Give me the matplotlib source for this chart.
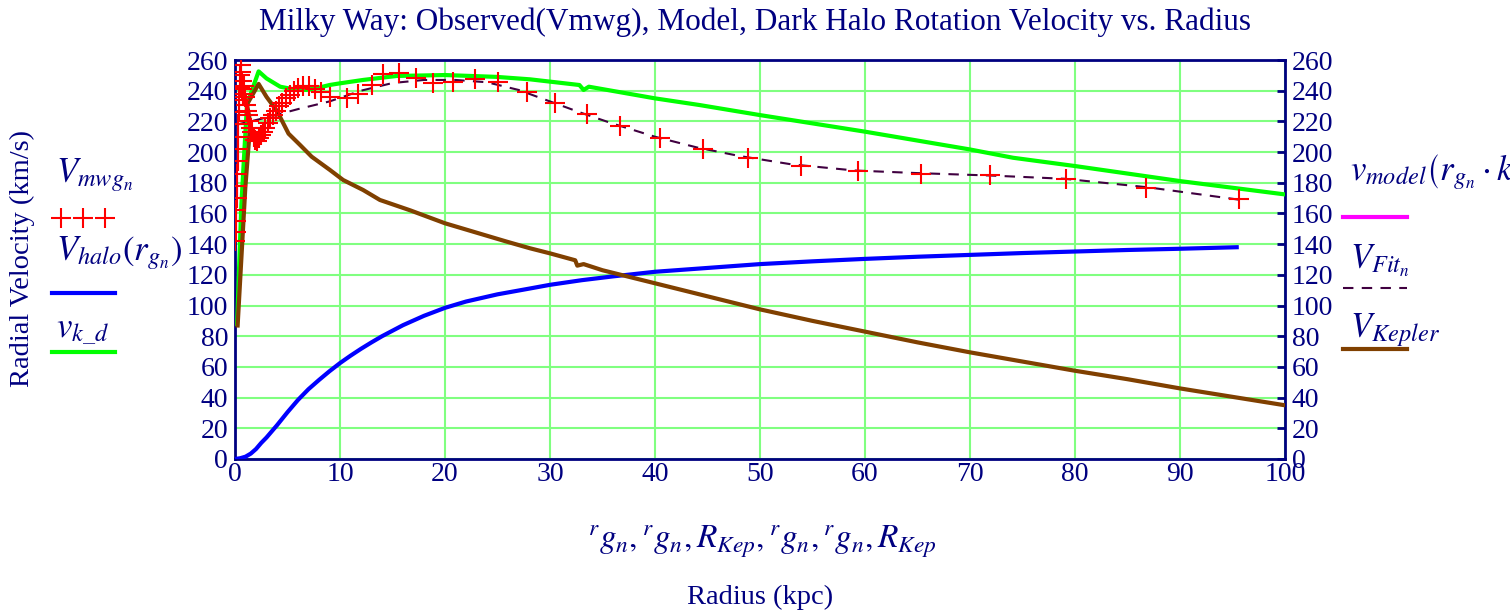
import matplotlib
matplotlib.use("Agg")
import matplotlib.pyplot as plt
from matplotlib.lines import Line2D
import numpy as np

plt.rcParams['font.family'] = ['Liberation Serif', 'DejaVu Serif']
plt.rcParams['mathtext.fontset'] = 'stix'

NAVY = '#000080'

# observed rotation curve Vmwg (kpc, km/s)
r_mwg = [0.03, 0.06, 0.09, 0.12, 0.15, 0.18, 0.21, 0.24, 0.27, 0.30, 0.33, 0.36, 0.40,
         0.44, 0.48, 0.53, 0.58, 0.64, 0.70, 0.77, 0.85, 0.93, 1.02, 1.12, 1.23, 1.35,
         1.48, 1.62, 1.77, 1.93, 2.10, 2.28, 2.47, 2.67, 2.88, 3.10, 3.35, 3.60, 3.90,
         4.20, 4.50, 4.85, 5.20, 5.60, 6.00, 6.50, 7.00, 7.60, 8.20,
         9.05, 10.7, 11.7, 13.0, 14.1, 15.6, 17.2, 18.9, 20.8, 22.9, 25.0, 27.8, 30.5,
         33.5, 36.7, 40.5, 44.6, 48.9, 53.9, 59.3, 65.3, 71.9, 79.1, 86.8, 95.6]
v_mwg = [142, 148, 155, 162, 170, 178, 186, 194, 202, 210, 218, 226, 234,
         242, 250, 257, 252, 246, 241, 238, 243, 236, 231, 227, 224, 220,
         216, 213, 210, 208, 207, 209, 211, 213, 216, 219, 222, 224, 227,
         230, 232, 235, 237, 240, 242, 243, 243, 241, 239,
         236, 235, 238, 244, 251, 251.5, 248, 245, 245.6, 247.6, 245.6, 239, 232,
         225, 217, 209, 202, 196.3, 190.9, 187.6, 185.9, 184.8, 182.6, 176.7, 169.1]

# fitted curve V_Fit
r_fit = [0, 3, 6, 9, 12, 15, 18, 21, 24, 27, 30, 33, 36, 40, 44, 48, 53, 59, 65, 72, 79, 87, 95.6]
v_fit = [217.6, 222.5, 228, 233, 240, 245, 247, 247, 245.5, 240.5, 233, 225.5, 218.5,
         210, 203, 197.5, 192, 188, 186.3, 184.7, 182.6, 177, 169]

# dark halo V_halo
r_halo = [0, 0.5, 1, 1.5, 2, 2.5, 3, 3.5, 4, 5, 6, 7, 8, 9, 10, 11, 12, 13, 14, 16, 18, 20,
          22, 25, 28, 30, 33, 36, 40, 45, 50, 55, 60, 65, 70, 75, 80, 85, 90, 95.4]
v_halo = [0, 0.5, 1.5, 3.5, 6.5, 10.5, 14, 18, 22, 30.5, 38.5, 45.5, 51.5, 57.2, 62.5,
          67.3, 71.8, 76, 80, 87.2, 93.3, 98.5, 102.6, 107.3, 111, 113.5, 116.5, 119,
          122, 124.5, 127, 128.8, 130.4, 131.8, 133, 134.2, 135.2, 136.2, 137, 138]

# v_k_d
r_kd = [0.2, 0.6, 1.14, 2.25, 3, 4.3, 5.5, 6.8, 8, 9, 10, 12.2, 15.4, 20, 24.9, 28.1,
        32.8, 33.2, 33.7, 40, 44.2, 50, 60, 70, 74.1, 80, 90, 100]
v_kd = [88, 165, 231, 252.6, 248, 242.6, 241, 240.5, 242, 243.7, 244.8, 247, 249.6,
        250.2, 249, 247.4, 243.7, 240.5, 242.6, 235, 230.7, 224.1, 213.3, 201.7,
        196.3, 190.9, 181.1, 172.4]

# Kepler
r_kep = [0.25, 0.98, 1.46, 1.14, 2.25, 3, 4, 5.1, 6.2, 7.3, 9.05, 10.3, 12.2, 13.8, 16.7,
         20, 25.9, 28.1, 30, 32.4, 32.6, 33.2, 35, 40, 45, 50, 55, 60, 65, 70, 75, 80,
         85, 90, 95, 100]
v_kep = [87, 176.6, 219, 231, 244.4, 236, 226.8, 212, 204.6, 197, 188.3, 181.8, 175.3,
         168.8, 162, 153.6, 141.6, 137.3, 134, 129.5, 126, 127, 123, 114.5, 106, 97.5,
         90, 83, 76, 69.5, 63.5, 57.5, 52, 46, 40.5, 35]

fig = plt.figure(figsize=(15.10, 6.12), dpi=100)
ax = fig.add_axes([235 / 1510, 1 - 459 / 612, 1050 / 1510, 399 / 612])

ax.plot(r_halo, v_halo, color='#0000ff', lw=3, zorder=3)
ax.plot(r_kd, v_kd, color='#00ff00', lw=3, zorder=3)
ax.plot(r_kep, v_kep, color='#804000', lw=3, zorder=4)
ax.plot(r_fit, v_fit, color='#400040', lw=1.5, ls=(0, (5, 4)), zorder=5)
ax.plot(r_mwg, v_mwg, ls='none', marker='+', color='#ff0000', ms=15, mew=1.5, zorder=6)

ax.set_xlim(0, 100)
ax.set_ylim(0, 260)
ax.set_xticks(np.arange(0, 101, 10))
ax.set_yticks(np.arange(0, 261, 20))
ax.grid(True, color='#80ff80', lw=1.5)
ax.set_axisbelow(True)
for s in ax.spines.values():
    s.set_color(NAVY)
    s.set_linewidth(2)
ax.tick_params(axis='both', colors=NAVY, labelsize=20, length=0, pad=5)
ax.tick_params(axis='y', right=True, labelright=True, direction='in', length=6, width=2)
ax.tick_params(axis='y', left=False)
ax.tick_params(axis='x', pad=2)

fig.text(0.5, 1 - 22 / 612, "Milky Way: Observed(Vmwg), Model, Dark Halo Rotation Velocity vs. Radius",
         ha='center', va='center', fontsize=22.5, color=NAVY)
fig.text(22 / 1510, 1 - 258 / 612, "Radial Velocity (km/s)", rotation=90,
         ha='center', va='center', fontsize=20.5, color=NAVY)
fig.text(762 / 1510, 1 - 542 / 612,
         r"$^{r}g_{n},^{r}g_{n},R_{Kep},^{r}g_{n},^{r}g_{n},R_{Kep}$",
         ha='center', va='center', fontsize=24, color=NAVY)
fig.text(760 / 1510, 1 - 597 / 612, "Radius (kpc)", ha='center', va='center',
         fontsize=20.5, color=NAVY)


def fx(px):
    return px / 1510


def fy(py):
    return 1 - py / 612


# left legend
fig.text(fx(56), fy(182), r"$V_{mwg_{n}}$", fontsize=25, color=NAVY, va='baseline')
for px in [61, 83, 105]:
    fig.add_artist(Line2D([fx(px)], [fy(218)], marker='+', color='#ff0000', ms=15, mew=1.5,
                          transform=fig.transFigure))
fig.text(fx(56), fy(260), r"$V_{halo}\left(r_{g_{n}}\right)$", fontsize=25, color=NAVY,
         va='baseline')
fig.add_artist(Line2D([fx(52), fx(115)], [fy(293), fy(293)], color='#0000ff', lw=3,
                      transform=fig.transFigure))
fig.text(fx(56), fy(337), r"$v_{k\_d}$", fontsize=25, color=NAVY, va='baseline')
fig.add_artist(Line2D([fx(52), fx(115)], [fy(352), fy(352)], color='#00ff00', lw=3,
                      transform=fig.transFigure))

# right legend
fig.text(fx(1350), fy(180), r"$v_{model}\left(r_{g_{n}}\cdot k\right)$", fontsize=25,
         color=NAVY, va='baseline')
fig.add_artist(Line2D([fx(1343), fx(1407)], [fy(217), fy(217)], color='#ff00ff', lw=3,
                      transform=fig.transFigure))
fig.text(fx(1350), fy(269), r"$V_{Fit_{n}}$", fontsize=25, color=NAVY, va='baseline')
fig.add_artist(Line2D([fx(1343), fx(1407)], [fy(288), fy(288)], color='#400040', lw=1.5,
                      ls=(0, (5, 4)), transform=fig.transFigure))
fig.text(fx(1350), fy(337), r"$V_{Kepler}$", fontsize=25, color=NAVY, va='baseline')
fig.add_artist(Line2D([fx(1343), fx(1407)], [fy(349), fy(349)], color='#804000', lw=3,
                      transform=fig.transFigure))

fig.savefig("out.png", dpi=100)
